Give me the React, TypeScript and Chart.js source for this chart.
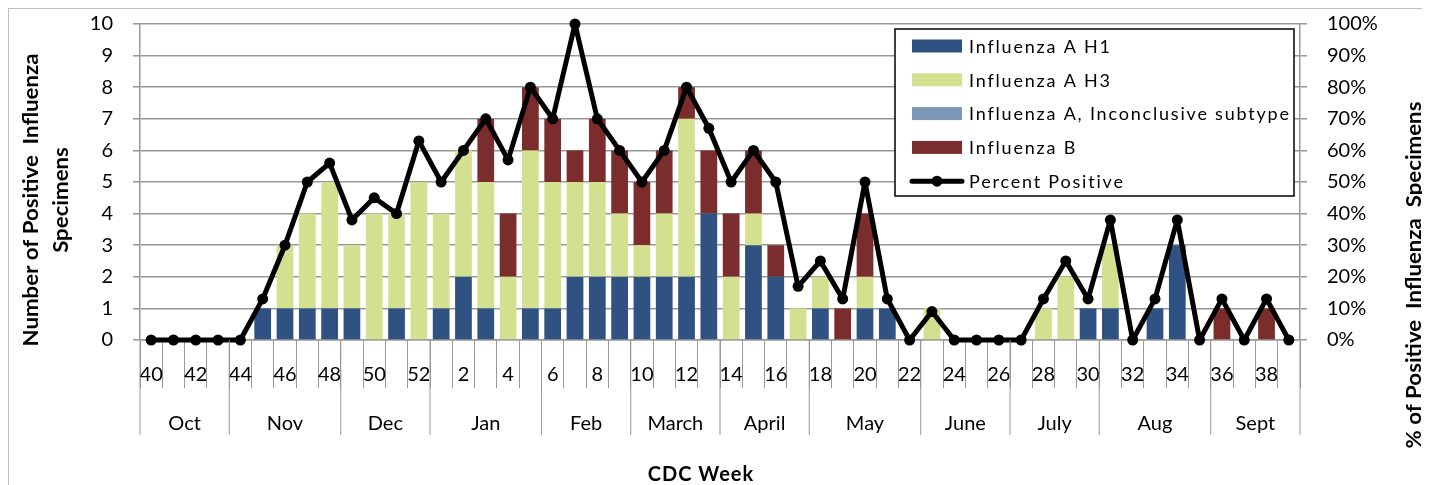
import React, { useEffect, useRef } from 'react';
import { Chart, registerables } from 'chart.js';

Chart.register(...registerables);

// CDC weeks 40 (Oct) through 39 (Sept)
const weeks = [
  '40', '41', '42', '43', '44', '45', '46', '47', '48', '49', '50', '51', '52',
  '1', '2', '3', '4', '5', '6', '7', '8', '9', '10', '11', '12', '13',
  '14', '15', '16', '17', '18', '19', '20', '21', '22', '23', '24', '25', '26',
  '27', '28', '29', '30', '31', '32', '33', '34', '35', '36', '37', '38', '39',
];

const fluAH1 = [
  0, 0, 0, 0, 0, 1, 1, 1, 1, 1, 0, 1, 0,
  1, 2, 1, 0, 1, 1, 2, 2, 2, 2, 2, 2, 4,
  0, 3, 2, 0, 1, 0, 1, 1, 0, 0, 0, 0, 0,
  0, 0, 0, 1, 1, 0, 1, 3, 0, 0, 0, 0, 0,
];

const fluAH3 = [
  0, 0, 0, 0, 0, 0, 2, 3, 4, 2, 4, 3, 5,
  3, 4, 4, 2, 5, 4, 3, 3, 2, 1, 2, 5, 0,
  2, 1, 0, 1, 1, 0, 1, 0, 0, 1, 0, 0, 0,
  0, 1, 2, 0, 2, 0, 0, 0, 0, 0, 0, 0, 0,
];

const fluAInconclusive = [
  0, 0, 0, 0, 0, 0, 0, 0, 0, 0, 0, 0, 0,
  0, 0, 0, 0, 0, 0, 0, 0, 0, 0, 0, 0, 0,
  0, 0, 0, 0, 0, 0, 0, 0, 0, 0, 0, 0, 0,
  0, 0, 0, 0, 0, 0, 0, 0, 0, 0, 0, 0, 0,
];

const fluB = [
  0, 0, 0, 0, 0, 0, 0, 0, 0, 0, 0, 0, 0,
  0, 0, 2, 2, 2, 2, 1, 2, 2, 2, 2, 1, 2,
  2, 2, 1, 0, 0, 1, 2, 0, 0, 0, 0, 0, 0,
  0, 0, 0, 0, 0, 0, 0, 0, 0, 1, 0, 1, 0,
];

const percentPositive = [
  0, 0, 0, 0, 0, 13, 30, 50, 56, 38, 45, 40, 63,
  50, 60, 70, 57, 80, 70, 100, 70, 60, 50, 60, 80, 67,
  50, 60, 50, 17, 25, 13, 50, 13, 0, 9, 0, 0, 0,
  0, 13, 25, 13, 38, 0, 13, 38, 0, 13, 0, 13, 0,
];

const months = ['Oct', 'Nov', 'Dec', 'Jan', 'Feb', 'March', 'April', 'May', 'June', 'July', 'Aug', 'Sept'];
const monthWeekCounts = [4, 5, 4, 5, 4, 4, 4, 5, 4, 4, 5, 4];

const seriesLabels = [
  'Influenza A H1',
  'Influenza A H3',
  'Influenza A, Inconclusive subtype',
  'Influenza B',
  'Percent Positive',
];

const leftTitle = ['Number of Positive  Influenza', 'Specimens'];
const rightTitle = '% of Positive  Influenza  Specimens';
const bottomTitle = 'CDC Week';

const FONT = 'Lato, "Open Sans", sans-serif';
const GRID = '#989898';
const COLORS = ['#2F5282', '#D2E090', '#7C97B6', '#7B2C2C', '#000000'];

function drawVerticalText(ctx: CanvasRenderingContext2D, text: string, cx: number, cy: number, targetLen: number | null, scaleOverride?: number) {
  const w = ctx.measureText(text).width;
  const sx = scaleOverride ?? (targetLen ? targetLen / w : 1);
  ctx.save();
  ctx.translate(cx, cy);
  ctx.rotate(-Math.PI / 2);
  ctx.scale(sx, 1);
  ctx.fillText(text, 0, 0);
  ctx.restore();
  return sx;
}

const decorPlugin = {
  id: 'decor',
  afterDraw(chart: any) {
    const ctx: CanvasRenderingContext2D = chart.ctx;
    const x = chart.scales.x;
    const step = x.getPixelForValue(1) - x.getPixelForValue(0);
    const top = x.top;

    ctx.save();
    // month grouping row
    ctx.strokeStyle = GRID;
    ctx.lineWidth = 1;
    ctx.fillStyle = '#000';
    ctx.font = `20px ${FONT}`;
    ctx.textAlign = 'center';
    ctx.textBaseline = 'middle';
    let start = 0;
    months.forEach((m, i) => {
      const n = monthWeekCounts[i];
      const left = x.getPixelForValue(start) - step / 2;
      const right = x.getPixelForValue(start + n - 1) + step / 2;
      ctx.beginPath();
      ctx.moveTo(left, top);
      ctx.lineTo(left, top + 95);
      ctx.stroke();
      if (i === months.length - 1) {
        ctx.beginPath();
        ctx.moveTo(right, top);
        ctx.lineTo(right, top + 95);
        ctx.stroke();
      }
      ctx.fillText(m, (left + right) / 2, 415);
      start += n;
    });

    // axis titles
    ctx.font = `bold 20px ${FONT}`;
    const s = drawVerticalText(ctx, leftTitle[0], 23, 191, 293);
    drawVerticalText(ctx, leftTitle[1], 53, 191, null, s);
    drawVerticalText(ctx, rightTitle, 1406, 266, null, s);
    (ctx as any).letterSpacing = '1px';
    ctx.fillText(bottomTitle, 692, 466);

    // legend box
    const bx = 886, by = 20, bw = 399, bh = 167;
    ctx.fillStyle = '#fff';
    ctx.fillRect(bx, by, bw, bh);
    ctx.strokeStyle = '#000';
    ctx.lineWidth = 1.5;
    ctx.strokeRect(bx, by, bw, bh);
    ctx.font = `18px ${FONT}`;
    (ctx as any).letterSpacing = '1.8px';
    ctx.textAlign = 'left';
    chart.data.datasets.forEach((ds: any, i: number) => {
      const cy = 37 + i * 33.8;
      if (ds.type === 'line') {
        ctx.strokeStyle = ds.borderColor;
        ctx.lineWidth = 5;
        ctx.lineCap = 'round';
        ctx.beginPath();
        ctx.moveTo(903, cy);
        ctx.lineTo(953, cy);
        ctx.stroke();
        ctx.fillStyle = ds.borderColor;
        ctx.beginPath();
        ctx.arc(928, cy, 5.5, 0, Math.PI * 2);
        ctx.fill();
      } else {
        ctx.fillStyle = ds.backgroundColor;
        ctx.fillRect(903, cy - 6.5, 50, 13);
      }
      ctx.fillStyle = '#000';
      ctx.fillText(ds.label, 960, cy + 1);
    });
    (ctx as any).letterSpacing = '0px';
    ctx.restore();
  },
};

export default function App() {
  const ref = useRef<HTMLCanvasElement>(null);

  useEffect(() => {
    document.documentElement.style.overflow = 'hidden';
    const canvas = ref.current;
    if (!canvas) return;
    const tickFont = { family: FONT, size: 20 };
    const barDefaults = { categoryPercentage: 1, barPercentage: 0.75, borderWidth: 0, order: 1, yAxisID: 'y' };
    const noVertPadding = (s: any) => { s.paddingTop = 0; s.paddingBottom = 0; };
    const chart = new Chart(canvas, {
      type: 'bar',
      data: {
        labels: weeks,
        datasets: [
          { ...barDefaults, type: 'bar', label: seriesLabels[0], data: fluAH1, backgroundColor: COLORS[0] },
          { ...barDefaults, type: 'bar', label: seriesLabels[1], data: fluAH3, backgroundColor: COLORS[1] },
          { ...barDefaults, type: 'bar', label: seriesLabels[2], data: fluAInconclusive, backgroundColor: COLORS[2] },
          { ...barDefaults, type: 'bar', label: seriesLabels[3], data: fluB, backgroundColor: COLORS[3] },
          {
            type: 'line',
            label: seriesLabels[4],
            data: percentPositive,
            yAxisID: 'y1',
            borderColor: COLORS[4],
            backgroundColor: COLORS[4],
            borderWidth: 5,
            borderJoinStyle: 'round',
            borderCapStyle: 'round',
            pointRadius: 5.5,
            pointBackgroundColor: COLORS[4],
            pointBorderWidth: 0,
            tension: 0,
            clip: false,
            order: 0,
          } as any,
        ],
      },
      options: {
        responsive: false,
        animation: false,
        layout: { padding: { top: 15, left: 0, right: 0, bottom: 0 } },
        plugins: { legend: { display: false }, tooltip: { enabled: false } },
        scales: {
          x: {
            stacked: true,
            offset: true,
            grid: { display: true, drawOnChartArea: false, drawTicks: true, tickLength: 48, color: GRID, lineWidth: 1, offset: true },
            border: { display: true, color: GRID, width: 1.5 },
            ticks: {
              autoSkip: false,
              maxRotation: 0,
              minRotation: 0,
              padding: -25,
              color: '#000',
              font: tickFont,
              callback: (_v: any, i: number) => (Number(weeks[i]) % 2 === 0 ? weeks[i] : ''),
            },
            afterFit: (s: any) => { s.height = 159; },
          },
          y: {
            stacked: true,
            position: 'left',
            min: 0,
            max: 10,
            grid: { color: GRID, lineWidth: 1.5, tickLength: 7 },
            border: { display: true, color: GRID, width: 1.5 },
            ticks: { stepSize: 1, padding: 20, color: '#000', font: tickFont },
            afterFit: (s: any) => { s.width = 131; noVertPadding(s); },
          },
          y1: {
            position: 'right',
            min: 0,
            max: 100,
            grid: { drawOnChartArea: false, color: GRID, lineWidth: 1.5, tickLength: 7 },
            border: { display: true, color: GRID, width: 1.5 },
            ticks: { stepSize: 10, padding: 20, color: '#000', font: tickFont, callback: (v: any) => `${v}%` },
            afterFit: (s: any) => { s.width = 127; noVertPadding(s); },
          },
        },
      } as any,
      plugins: [decorPlugin],
    });
    return () => chart.destroy();
  }, []);

  return (
    <div style={{ width: 1418, height: 490, border: '1px solid #BFBFBF', background: '#fff' }}>
      <canvas ref={ref} width={1418} height={490} style={{ display: 'block' }} />
    </div>
  );
}
